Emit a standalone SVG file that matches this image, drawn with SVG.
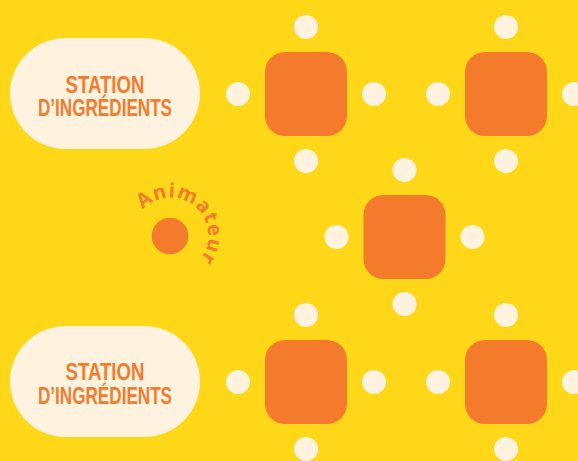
<svg xmlns="http://www.w3.org/2000/svg" width="578" height="461" viewBox="0 0 578 461">
<defs>
<style>
.pill{fill:#FFF3E0}
.pt{font-family:"Liberation Sans",Arial,sans-serif;font-weight:700;font-size:23px;fill:#F47B2C;text-anchor:middle}
.tbl{fill:#F47B2C}
.seat{fill:#FFF3E0}
.anim{font-family:"Open Sans","Liberation Sans",sans-serif;font-weight:700;font-size:20px;fill:#F47B2C;letter-spacing:1px}
</style>
<g id="seats">
<circle class="seat" cx="0" cy="-67" r="12"/>
<circle class="seat" cx="0" cy="67" r="12"/>
<circle class="seat" cx="-68" cy="0" r="12"/>
<circle class="seat" cx="68" cy="0" r="12"/>
<rect class="tbl" x="-41" y="-42" width="82" height="84" rx="20"/>
</g>
<path id="arc" d="M 142.7 209.6 A 38 38 0 1 1 194.4 265.1"/>
</defs>
<rect width="578" height="461" fill="#FED718"/>
<g id="station-top">
<rect class="pill" x="10" y="38" width="190" height="111" rx="55.5"/>
<text class="pt" x="105" y="92.5" textLength="79" lengthAdjust="spacingAndGlyphs">STATION</text>
<text class="pt" x="105" y="116" textLength="134" lengthAdjust="spacingAndGlyphs">D’INGRÉDIENTS</text>
</g>
<g id="station-bottom">
<rect class="pill" x="10" y="326" width="190" height="111" rx="55.5"/>
<text class="pt" x="105" y="380" textLength="79" lengthAdjust="spacingAndGlyphs">STATION</text>
<text class="pt" x="105" y="404" textLength="134" lengthAdjust="spacingAndGlyphs">D’INGRÉDIENTS</text>
</g>
<g id="animateur">
<circle cx="170" cy="236" r="18.3" fill="#F47B2C"/>
<text class="anim"><textPath href="#arc">Animateur</textPath></text>
</g>
<g id="table-1"><use href="#seats" x="306" y="94"/></g>
<g id="table-2"><use href="#seats" x="506" y="94"/></g>
<g id="table-3"><use href="#seats" x="404.5" y="237"/></g>
<g id="table-4"><use href="#seats" x="306" y="382"/></g>
<g id="table-5"><use href="#seats" x="506" y="382"/></g>
<g id="connectors"/>
</svg>
